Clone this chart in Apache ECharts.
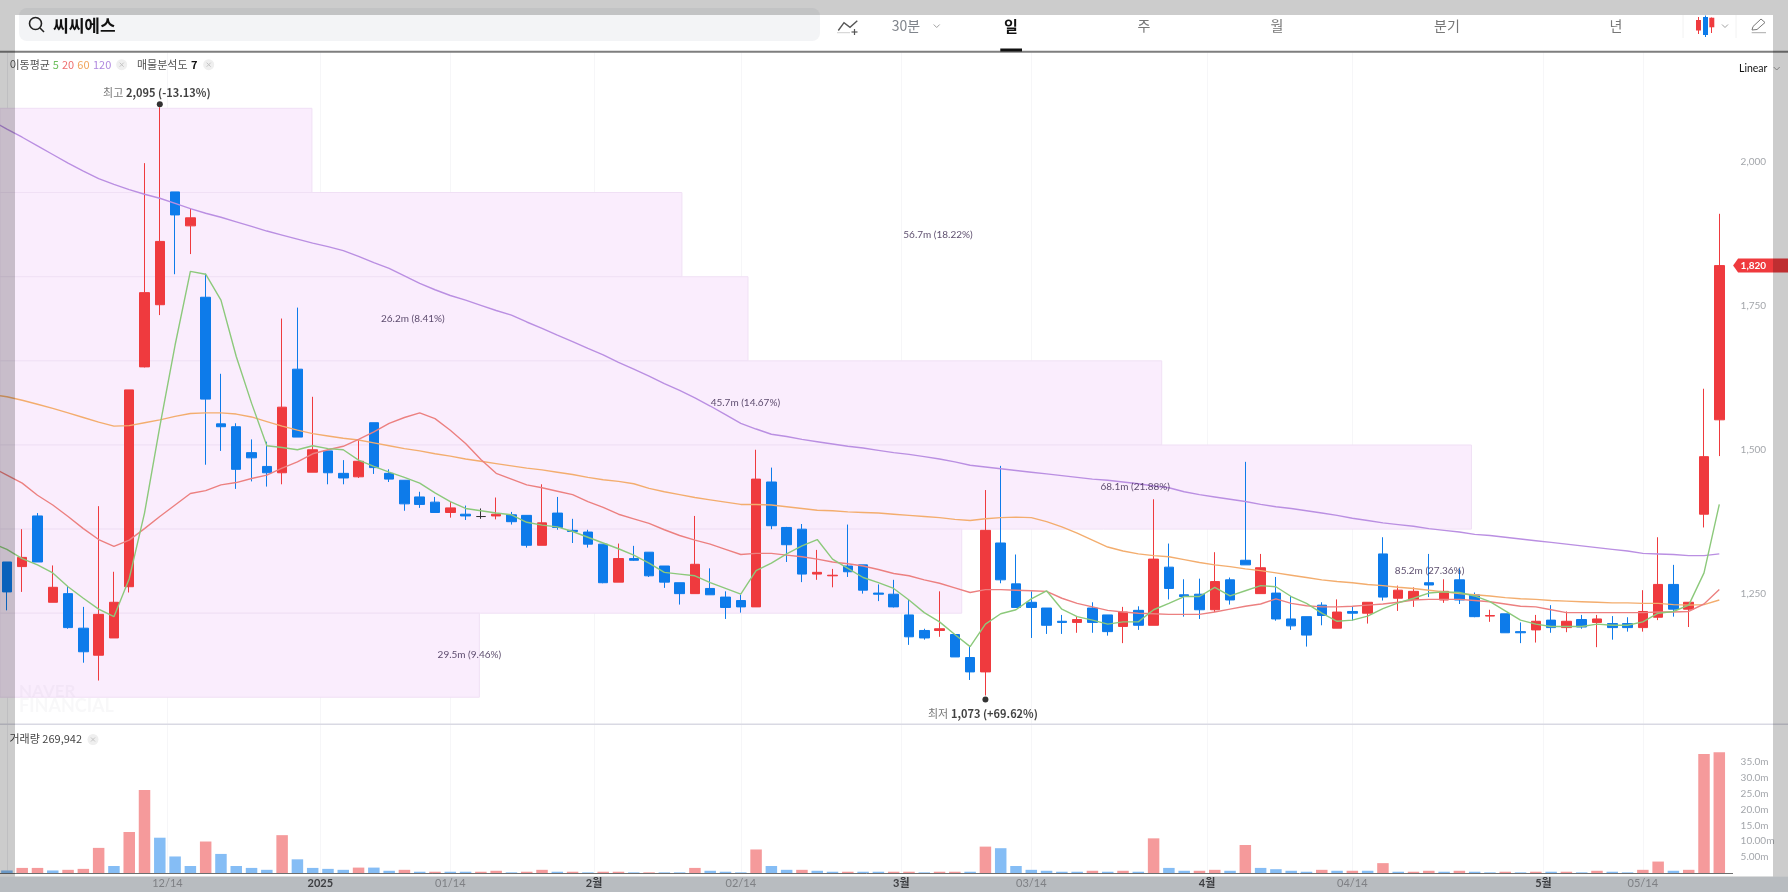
<!DOCTYPE html>
<html>
<head>
<meta charset="utf-8">
<title>씨씨에스</title>
<style>
  html, body { margin: 0; padding: 0; background: #fff; }
  #chart { width: 1788px; height: 892px; }
</style>
<script src="https://cdn.jsdelivr.net/npm/echarts@6/dist/echarts.min.js"></script>
</head>
<body>
<div id="chart"></div>
<script>
// 일봉 시가/종가/저가/고가
const openPrices = [1305,1297,1385,1235,1250,1190,1143,1173,1262,1644,1752,1948,1889,1765,1545,1540,1495,1471,1460,1640,1461,1498,1459,1453,1547,1459,1447,1418,1409,1391,1388,1384,1385,1387,1386,1334,1390,1360,1357,1336,1270,1311,1322,1298,1269,1250,1259,1244,1238,1227,1444,1365,1362,1284,1281,1298,1300,1251,1249,1213,1186,1186,1179,1139,1114,1338,1267,1235,1225,1202,1200,1225,1213,1193,1221,1195,1296,1248,1249,1222,1274,1308,1250,1251,1206,1210,1230,1190,1219,1216,1319,1242,1240,1269,1239,1274,1248,1211,1215,1184,1187,1204,1191,1205,1200,1198,1198,1191,1209,1266,1223,1388,1552];
const closePrices = [1253,1313,1305,1261,1191,1149,1214,1235,1604,1773,1862,1908,1903,1588,1540,1466,1486,1460,1574,1522,1500,1460,1451,1480,1469,1449,1406,1405,1391,1399,1385,1384,1388,1375,1334,1373,1365,1358,1336,1269,1311,1308,1281,1270,1250,1301,1248,1226,1227,1449,1368,1335,1284,1287,1282,1288,1256,1249,1227,1175,1173,1189,1140,1114,1360,1274,1226,1226,1195,1200,1205,1200,1184,1218,1195,1310,1259,1245,1222,1271,1239,1300,1295,1206,1194,1178,1212,1218,1216,1235,1244,1256,1254,1265,1254,1239,1210,1212,1182,1182,1202,1191,1202,1192,1206,1191,1191,1219,1266,1223,1235,1488,1820];
const lowPrices = [1221,1253,1305,1235,1189,1130,1099,1173,1252,1643,1734,1805,1840,1474,1498,1432,1445,1436,1440,1522,1461,1440,1440,1451,1458,1444,1394,1399,1391,1382,1378,1380,1379,1370,1330,1334,1361,1338,1330,1268,1270,1307,1279,1260,1231,1250,1248,1206,1217,1227,1362,1305,1270,1274,1261,1279,1250,1237,1226,1161,1170,1175,1140,1100,1073,1268,1226,1173,1180,1180,1182,1182,1177,1164,1187,1195,1240,1210,1206,1218,1231,1300,1250,1203,1187,1158,1195,1190,1203,1198,1238,1220,1227,1244,1234,1232,1209,1201,1182,1164,1165,1182,1183,1189,1157,1170,1184,1184,1204,1210,1192,1365,1489];
const highPrices = [1305,1362,1390,1299,1263,1227,1402,1288,1604,1998,2095,1948,1919,1806,1632,1546,1518,1514,1728,1747,1592,1498,1482,1517,1547,1466,1447,1427,1418,1409,1403,1398,1417,1392,1386,1440,1418,1380,1361,1336,1337,1333,1322,1298,1269,1385,1294,1254,1248,1500,1469,1366,1371,1326,1293,1370,1300,1266,1274,1239,1189,1254,1179,1158,1430,1472,1318,1254,1225,1213,1210,1235,1213,1227,1228,1414,1337,1275,1276,1322,1278,1479,1319,1279,1246,1210,1235,1240,1227,1235,1348,1264,1261,1319,1275,1294,1252,1222,1215,1200,1213,1230,1219,1213,1213,1211,1209,1256,1348,1300,1235,1606,1910];

// 이동평균 (첫 값은 화면 왼쪽 밖의 하루 전)
const ma5 = [1338,1327,1311,1300,1286,1262,1242,1223,1210,1276,1390,1540,1682,1810,1805,1760,1662,1581,1507,1504,1500,1507,1502,1500,1482,1471,1461,1452,1442,1425,1410,1398,1394,1390,1387,1374,1369,1366,1358,1348,1338,1328,1317,1303,1287,1284,1281,1269,1259,1249,1290,1303,1319,1333,1344,1310,1294,1278,1269,1259,1239,1217,1201,1179,1158,1197,1215,1222,1241,1255,1223,1210,1204,1197,1201,1201,1222,1233,1245,1245,1261,1246,1255,1264,1262,1245,1233,1216,1202,1204,1211,1224,1234,1242,1251,1253,1252,1246,1236,1220,1204,1197,1193,1193,1193,1197,1195,1195,1201,1216,1219,1230,1286,1405];
const ma20 = [1470,1456,1442,1421,1404,1384,1363,1344,1332,1343,1363,1384,1404,1424,1429,1439,1443,1450,1456,1468,1479,1493,1500,1506,1518,1531,1546,1556,1564,1554,1534,1511,1483,1459,1449,1439,1434,1428,1422,1410,1400,1388,1380,1372,1361,1351,1343,1336,1327,1318,1320,1320,1317,1314,1310,1305,1302,1298,1292,1285,1281,1274,1268,1260,1252,1257,1257,1256,1255,1254,1242,1233,1227,1221,1218,1216,1215,1214,1214,1214,1218,1223,1228,1232,1241,1233,1229,1227,1227,1228,1230,1232,1235,1239,1240,1240,1240,1238,1236,1232,1228,1227,1222,1217,1217,1217,1217,1217,1217,1218,1218,1219,1232,1257];
const ma60 = [1596,1592,1586,1579,1572,1564,1556,1548,1541,1542,1547,1552,1558,1563,1564,1564,1562,1557,1549,1541,1534,1528,1524,1520,1517,1512,1507,1502,1498,1493,1489,1484,1480,1476,1472,1468,1465,1461,1457,1452,1448,1445,1441,1433,1427,1422,1417,1413,1409,1405,1405,1404,1401,1398,1395,1394,1392,1391,1390,1388,1386,1384,1382,1379,1377,1380,1382,1383,1382,1375,1366,1355,1343,1331,1324,1319,1316,1314,1309,1304,1300,1297,1293,1290,1286,1282,1278,1274,1271,1269,1266,1264,1261,1259,1256,1253,1250,1248,1246,1243,1241,1240,1238,1237,1236,1235,1234,1234,1233,1233,1231,1230,1231,1239];
const ma120 = [2072,2057,2043,2028,2013,1998,1984,1971,1961,1952,1944,1937,1928,1919,1911,1904,1896,1888,1880,1873,1866,1859,1853,1846,1836,1825,1815,1802,1789,1778,1768,1760,1751,1742,1734,1722,1711,1699,1688,1676,1665,1652,1640,1628,1615,1603,1590,1576,1561,1546,1536,1527,1523,1518,1514,1510,1506,1503,1499,1495,1492,1488,1484,1479,1473,1470,1467,1464,1461,1458,1455,1452,1449,1447,1444,1441,1437,1434,1427,1422,1418,1414,1410,1405,1401,1398,1394,1390,1386,1381,1377,1373,1370,1367,1363,1360,1357,1353,1351,1348,1345,1342,1339,1336,1333,1330,1327,1324,1320,1319,1318,1316,1316,1319];

// 거래량 (백만주), 1 = 상승색 0 = 하락색
const volumes = [0.8,1.6,1.6,0.8,1.0,1.3,7.9,2.2,12.9,26.1,11.1,5.2,2.2,9.9,6.0,2.2,1.6,1.0,11.9,4.3,1.6,1.3,1.0,1.7,1.7,0.7,1.0,0.4,0.4,0.4,0.4,0.4,0.7,0.2,0.4,1.0,0.4,0.4,0.2,0.4,0.4,0.2,0.2,0.2,0.2,1.6,0.7,0.4,0.2,7.4,2.2,1.0,1.0,0.7,0.4,0.4,0.4,0.4,0.4,0.4,0.2,0.4,0.4,0.4,8.3,7.8,2.2,1.0,0.7,0.4,0.4,0.7,0.4,0.7,0.4,10.9,1.6,0.7,0.7,1.0,0.7,8.8,1.6,1.2,0.7,0.4,1.0,0.7,0.7,0.7,3.1,0.4,0.4,0.7,0.4,0.7,0.4,0.2,0.4,0.2,0.4,0.4,0.4,0.2,0.7,0.4,0.2,1.0,3.6,0.7,1.0,37.4,38.0];
const volumeUp = [0,1,1,0,1,1,1,0,1,1,0,0,0,1,0,0,0,0,1,0,0,0,0,1,0,0,1,0,1,0,0,1,1,0,1,1,0,1,0,1,1,0,1,0,0,1,0,0,0,1,0,0,1,0,0,1,0,0,1,1,0,1,1,0,1,0,0,0,0,0,0,1,0,1,0,1,0,0,1,1,0,1,0,0,0,0,1,0,1,0,1,0,1,1,0,1,0,0,1,0,1,0,1,0,1,0,0,1,1,0,1,1,1];

// 축 눈금
const dateTicks = [10.5,20.5,29,38.4,48,58.5,67,78.5,88,100.5,107];
const dateLabels = ['12/14','2025','01/14','2월','02/14','3월','03/14','4월','04/14','5월','05/14'];
const majorDates = ['2025','2월','3월','4월','5월'];
const priceTicks = [1250,1500,1750,2000];
const volumeTicks = [5,10,15,20,25,30,35];
const volumeTickLabels = ['5.00m','10.00m','15.0m','20.0m','25.0m','30.0m','35.0m'];

// 매물분석도: 가격 구간 하단/상단, 막대가 끝나는 봉 위치
const profileLow = [1947,1800.7,1654.5,1508.3,1362.1,1216,1070];
const profileHigh = [2093.3,1947,1800.7,1654.5,1508.3,1362.1,1216];
const profileEnd = [19.95,44.15,48.47,75.53,95.79,62.45,30.9];
const profileTexts = ['56.7m (18.22%)','26.2m (8.41%)','45.7m (14.67%)','68.1m (21.88%)','85.2m (27.36%)','29.5m (9.46%)'];
const profileTextX = [60.9,26.55,48.3,73.8,93.05,30.25];
const profileTextY = [1873,1727.5,1582,1435,1289,1143.6];

const fontKr = '"Noto Sans CJK KR", sans-serif';
const fontNum = 'Lato, "Noto Sans CJK KR", sans-serif';
const candleRed = '#ef3a3e';
const candleBlue = '#0d7bea';
const highIndex = 10, lowIndex = 64, lastPrice = 1820;
const xMin = -0.452, xMax = 112.87;

const comma = v => String(v).replace(/\B(?=(\d{3})+$)/g, ',');
const maPoints = arr => arr.map((v, i) => [i - 1, v]);

function txt(x, y, text, fill, font, align) {
  return { type: 'text', z: 50, silent: true, style: { x, y, text, fill, font, textAlign: align || 'left', align: align || 'left', textVerticalAlign: 'middle', verticalAlign: 'middle' } };
}
function rect(x, y, w, h, fill, z, r) {
  return { type: 'rect', z: z, silent: true, shape: { x, y, width: w, height: h, r: r || 0 }, style: { fill } };
}
function poly(points, stroke, width, z) {
  return { type: 'polyline', z: z || 50, silent: true, shape: { points }, style: { stroke, lineWidth: width || 1, fill: 'none' } };
}
function closeBadge(x, y) {
  return [
    { type: 'circle', z: 50, silent: true, shape: { cx: x, cy: y, r: 5.5 }, style: { fill: '#efefef' } },
    poly([[x - 2, y - 2], [x + 2, y + 2]], '#c4c4c4'),
    poly([[x - 2, y + 2], [x + 2, y - 2]], '#c4c4c4')
  ];
}
function chevron(x, y) {
  return poly([[x - 3, y - 1.5], [x, y + 1.5], [x + 3, y - 1.5]], '#a0a0a0');
}

const graphics = [
  // 상단 툴바
  rect(19, 8, 801, 33, '#f3f4f6', 40, 8),
  { type: 'circle', z: 50, silent: true, shape: { cx: 35.5, cy: 23.5, r: 6 }, style: { fill: 'none', stroke: '#222', lineWidth: 1.6 } },
  poly([[40, 28], [44, 32]], '#222', 1.6),
  txt(53, 26, '씨씨에스', '#111', 'bold 17px ' + fontKr),
  poly([[838.3, 30.5], [844, 22.7], [850, 27.3], [857.3, 20.7]], '#555', 1.4),
  poly([[837, 32.7], [850, 32.7]], '#cfcfcf'),
  poly([[854.5, 29], [854.5, 35]], '#555', 1.2),
  poly([[851.5, 32], [857.5, 32]], '#555', 1.2),
  txt(906, 26, '30분', '#80858c', '14px ' + fontKr, 'center'),
  chevron(936.7, 26),
  txt(1011, 26, '일', '#111', 'bold 15px ' + fontKr, 'center'),
  rect(1000.3, 48.5, 21.7, 3, '#111', 50),
  txt(1144, 26, '주', '#777', '14px ' + fontKr, 'center'),
  txt(1277, 26, '월', '#777', '14px ' + fontKr, 'center'),
  txt(1447, 26, '분기', '#777', '14px ' + fontKr, 'center'),
  txt(1616, 26, '년', '#777', '14px ' + fontKr, 'center'),
  poly([[1683, 15], [1683, 38]], '#f2f2f2'),
  poly([[1736, 15], [1736, 38]], '#f2f2f2'),
  poly([[1698.5, 17], [1698.5, 34]], candleRed), rect(1696, 20, 5, 10.5, candleRed, 50),
  poly([[1705.5, 15.5], [1705.5, 37]], candleBlue), rect(1703, 17, 5, 18, candleBlue, 50),
  poly([[1711.5, 17.5], [1711.5, 33]], candleRed), rect(1709.3, 17.7, 5, 9.6, candleRed, 50),
  chevron(1725, 26),
  poly([[1752, 30], [1753, 26.5], [1761, 19], [1765, 22.5], [1757, 29.5], [1752, 30]], '#777', 1),
  poly([[1751.7, 32.7], [1766, 32.7]], '#aaa'),
  rect(0, 50.7, 1788, 2, '#7e7e7e', 45),

  // 범례
  txt(9.5, 64.5, '이동평균', '#555', '11px ' + fontKr),
  txt(52.7, 64.5, '5', '#6dbf5d', '11px ' + fontKr),
  txt(62, 64.5, '20', '#ee6f6f', '11px ' + fontKr),
  txt(77.3, 64.5, '60', '#f0a55c', '11px ' + fontKr),
  txt(93, 64.5, '120', '#b088df', '11px ' + fontKr),
  ...closeBadge(121.7, 64.7),
  txt(137, 64.5, '매물분석도', '#555', '11px ' + fontKr),
  txt(191, 64.5, '7', '#111', 'bold 11px ' + fontKr),
  ...closeBadge(208.7, 64.7),
  txt(1739, 68.3, 'Linear', '#111', '10.5px ' + fontNum),
  chevron(1776.7, 68.5),

  // 워터마크
  txt(19, 692, 'NAVER', 'rgba(120,120,135,0.05)', 'bold 17px ' + fontNum),
  txt(19, 706, 'FINANCIAL', 'rgba(120,120,135,0.05)', 'bold 18px ' + fontNum),

  // 거래량 패널
  rect(0, 723.5, 1788, 1.5, '#d9d9e3', 45),
  txt(9.5, 739, '거래량 269,942', '#444', '11px ' + fontKr),
  ...closeBadge(93, 739.5),

  // 날짜 띠, 화면 어둡게 덮인 가장자리
  rect(0, 876.5, 1788, 15.5, '#e7ebf0', 0),
  rect(0, 0, 1788, 15, 'rgba(0,0,0,0.2)', 1000),
  rect(0, 876.5, 1788, 15.5, 'rgba(0,0,0,0.2)', 1000),
  rect(0, 15, 15, 861.5, 'rgba(0,0,0,0.2)', 1000),
  rect(1773, 15, 15, 861.5, 'rgba(0,0,0,0.2)', 1000)
];

const chart = echarts.init(document.getElementById('chart'), null, { renderer: 'canvas' });
const xBase = { type: 'value', min: xMin, max: xMax, axisLine: { show: false }, splitLine: { show: true, lineStyle: { color: '#f6f6f8', width: 1 } } };
const extremeRich = {
  a: { color: '#555', fontFamily: fontKr, fontSize: 11 },
  b: { color: '#111', fontFamily: fontKr, fontSize: 11, fontWeight: 'bold' }
};

chart.setOption({
  animation: false,
  backgroundColor: '#ffffff',
  textStyle: { fontFamily: fontKr },
  grid: [
    { left: 0, right: 55.4, top: 52, bottom: 168 },
    { left: 0, right: 55.4, top: 724, bottom: 19 }
  ],
  xAxis: [
    Object.assign({}, xBase, { gridIndex: 0, axisTick: { show: false, customValues: dateTicks }, axisLabel: { show: false, customValues: dateTicks } }),
    Object.assign({}, xBase, {
      gridIndex: 1,
      axisLine: { show: true, onZero: false, lineStyle: { color: '#6e6e6e', width: 1 } },
      axisTick: { show: false, customValues: dateTicks },
      axisLabel: {
        show: true, customValues: dateTicks, margin: 5, hideOverlap: false,
        showMinLabel: true, showMaxLabel: true,
        formatter: v => {
          const label = dateLabels[dateTicks.indexOf(v)];
          return majorDates.includes(label) ? '{major|' + label + '}' : label;
        },
        color: '#9ea1a6', fontFamily: fontNum, fontSize: 11,
        rich: { major: { color: '#4c4e52', fontWeight: 'bold', fontFamily: fontNum, fontSize: 11 } }
      }
    })
  ],
  yAxis: [
    {
      type: 'value', gridIndex: 0, position: 'right', min: 1023.5, max: 2191.1, scale: true,
      axisLine: { show: true, lineStyle: { color: '#efeff2' } },
      splitLine: { show: false },
      axisTick: { show: true, length: 3, customValues: priceTicks, lineStyle: { color: '#e4e4e8' } },
      axisLabel: { customValues: priceTicks, margin: 8, color: '#a3a6ab', fontFamily: fontNum, fontSize: 10, formatter: v => comma(v) }
    },
    {
      type: 'value', gridIndex: 1, position: 'right', min: 0, max: 46.86,
      axisLine: { show: true, lineStyle: { color: '#efeff2' } },
      splitLine: { show: false },
      axisTick: { show: false, customValues: volumeTicks },
      axisLabel: { customValues: volumeTicks, margin: 8, color: '#a3a6ab', fontFamily: fontNum, fontSize: 10, formatter: v => volumeTickLabels[volumeTicks.indexOf(v)] }
    }
  ],
  graphic: { elements: graphics },
  series: [
    {
      name: '매물분석도', type: 'custom', xAxisIndex: 0, yAxisIndex: 0, z: 1, silent: true, clip: false,
      encode: { x: 2, y: [0, 1] },
      data: profileLow.map((v, i) => [v, profileHigh[i], profileEnd[i]]),
      renderItem: (params, api) => {
        const p0 = api.coord([xMin, api.value(1)]);
        const p1 = api.coord([api.value(2), api.value(0)]);
        return { type: 'rect', shape: { x: p0[0], y: p0[1], width: p1[0] - p0[0], height: p1[1] - p0[1] }, style: { fill: '#faedfd', stroke: '#f0e0f5', lineWidth: 1 } };
      }
    },
    {
      name: '일봉', type: 'candlestick', xAxisIndex: 0, yAxisIndex: 0, z: 3, barWidth: 10, silent: true,
      encode: { x: 0, y: [1, 2, 3, 4] },
      itemStyle: { color: candleRed, color0: candleBlue, borderColor: candleRed, borderColor0: candleBlue, borderColorDoji: '#333333', borderWidth: 1 },
      data: openPrices.map((v, i) => [i, v, closePrices[i], lowPrices[i], highPrices[i]])
    },
    { name: '이동평균 120', type: 'line', xAxisIndex: 0, yAxisIndex: 0, z: 4, silent: true, showSymbol: false, lineStyle: { color: '#ba8fe2', width: 1.4 }, data: maPoints(ma120) },
    { name: '이동평균 60', type: 'line', xAxisIndex: 0, yAxisIndex: 0, z: 4, silent: true, showSymbol: false, lineStyle: { color: '#f3ad6e', width: 1.4 }, data: maPoints(ma60) },
    { name: '이동평균 20', type: 'line', xAxisIndex: 0, yAxisIndex: 0, z: 4, silent: true, showSymbol: false, lineStyle: { color: '#ec8080', width: 1.4 }, data: maPoints(ma20) },
    { name: '이동평균 5', type: 'line', xAxisIndex: 0, yAxisIndex: 0, z: 4, silent: true, showSymbol: false, lineStyle: { color: '#8cc97b', width: 1.4 }, data: maPoints(ma5) },
    {
      name: '매물 비중', type: 'scatter', xAxisIndex: 0, yAxisIndex: 0, z: 5, silent: true, symbolSize: 0,
      data: profileTexts.map((t, i) => ({ value: [profileTextX[i], profileTextY[i]], label: { formatter: t } })),
      label: { show: true, position: 'inside', color: '#34224a', fontFamily: fontNum, fontSize: 10 }
    },
    {
      name: '최고', type: 'scatter', xAxisIndex: 0, yAxisIndex: 0, z: 6, silent: true, symbolSize: 6, symbolOffset: [0, -3],
      itemStyle: { color: '#000' },
      data: [[highIndex, highPrices[highIndex]]],
      label: { show: true, position: 'top', distance: 2, offset: [-3, 0], formatter: '{a|최고} {b|2,095 (-13.13%)}', rich: extremeRich }
    },
    {
      name: '최저', type: 'scatter', xAxisIndex: 0, yAxisIndex: 0, z: 6, silent: true, symbolSize: 6, symbolOffset: [0, 4],
      itemStyle: { color: '#000' },
      data: [[lowIndex, lowPrices[lowIndex]]],
      label: { show: true, position: 'bottom', distance: 5.5, offset: [-2.5, 0], formatter: '{a|최저} {b|1,073 (+69.62%)}', rich: extremeRich }
    },
    {
      name: '현재가', type: 'custom', xAxisIndex: 0, yAxisIndex: 0, z: 6, silent: true, clip: false,
      encode: { x: 0, y: 1 },
      data: [[xMax, lastPrice]],
      renderItem: (params, api) => {
        const p = api.coord([xMax, api.value(1)]);
        const x = p[0], y = p[1];
        return {
          type: 'group',
          children: [
            { type: 'polygon', shape: { points: [[x + 0.5, y], [x + 5.5, y - 7], [1788, y - 7], [1788, y + 7], [x + 5.5, y + 7]] }, style: { fill: candleRed } },
            { type: 'text', style: { x: x + 8, y: y, text: comma(api.value(1)), fill: '#fff', font: 'bold 10px ' + fontNum, verticalAlign: 'middle', textVerticalAlign: 'middle' } }
          ]
        };
      }
    },
    {
      name: '거래량', type: 'bar', xAxisIndex: 1, yAxisIndex: 1, z: 3, silent: true, barWidth: 11.5,
      data: volumes.map((v, i) => ({ value: [i, v], itemStyle: { color: volumeUp[i] ? '#f59a9b' : '#85bdf5' } }))
    }
  ]
});
</script>
</body>
</html>
